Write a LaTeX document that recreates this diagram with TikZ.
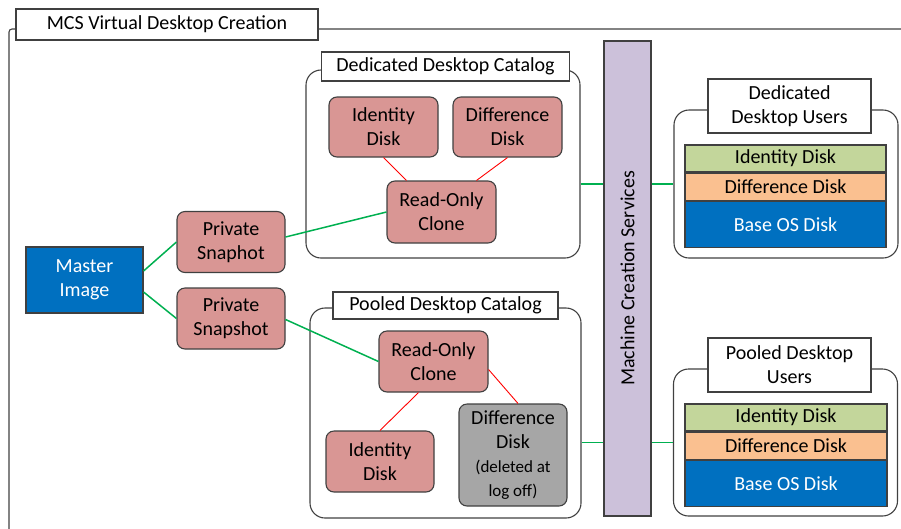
\documentclass[tikz,border=0pt]{standalone}
\usepackage{fontspec}
\setmainfont{Carlito}
\usetikzlibrary{
    positioning
}
\definecolor{edgeGray}{RGB}{64,64,64}
\definecolor{diskPink}{RGB}{217,150,148}
\definecolor{diskGray}{RGB}{166,166,166}
\definecolor{msBlue}{RGB}{0,112,192}
\definecolor{mcsLilac}{RGB}{204,193,218}
\definecolor{layGreen}{RGB}{195,214,155}
\definecolor{layOrange}{RGB}{250,192,144}
\definecolor{linkGreen}{RGB}{0,176,80}
\tikzset{
  disk/.style    = {draw=edgeGray, line width=1.1pt, rounded corners=8pt,
                    fill=diskPink, minimum width=108pt, minimum height=61pt,
                    align=center, inner sep=0pt},
  panel/.style   = {draw=edgeGray, line width=1.1pt, rounded corners=15pt,
                    inner sep=0pt},
  tag/.style     = {draw=edgeGray, line width=1.1pt, fill=white,
                    align=center, inner sep=0pt},
  layer/.style   = {draw=edgeGray, line width=1.1pt, minimum width=201pt,
                    minimum height=27pt, inner sep=0pt},
  glink/.style   = {linkGreen, line width=1.5pt},
  rlink/.style   = {red, line width=0.9pt}
}
\newcommand{\smalltxt}{\fontsize{17}{21}\selectfont}

\begin{document}
\begin{tikzpicture}[
    x=1pt, y=-1pt,
    every node/.style={font=\fontsize{20}{24}\selectfont},
    usercase/.style={panel, minimum width=224pt, minimum height=148pt}
]
\useasboundingbox (0,0) rectangle (901,528);

% outer frame
\draw[edgeGray, line width=1.1pt, rounded corners=3pt] (9,560) |- (940,29);
\node[tag, minimum width=302pt, minimum height=31pt] (title) at (167,24.5)
    {MCS Virtual Desktop Creation};

% master and snapshots
\node[draw=edgeGray, line width=1.1pt, fill=msBlue, text=white, align=center,
      minimum width=117pt, minimum height=66pt] (master) at (84.5,280)
    {Master\\Image};
\node[disk] (snapA) at (231,242) {Private\\Snaphot};
\node[disk] (snapB) at (231,318.5) {Private\\Snapshot};

% dedicated catalog
\node[panel, minimum width=274pt, minimum height=188pt] (dedcat) at (443,164) {};
\node[tag, minimum width=248pt, minimum height=29pt] (dedtitle) at (445.5,66.5)
    {Dedicated Desktop Catalog};
\node[disk, minimum width=109pt, minimum height=60pt] (dedid) at (383.5,127)
    {Identity\\Disk};
\node[disk, minimum width=109pt, minimum height=60pt] (deddiff) at (507.5,127)
    {Difference\\Disk};
\node[disk, minimum width=109pt, minimum height=62pt] (dedclone) at (441.5,212)
    {Read-Only\\Clone};

% pooled catalog
\node[panel, minimum width=271pt, minimum height=210pt] (poolcat) at (445.5,413) {};
\node[tag, minimum width=225pt, minimum height=27pt] (pooltitle) at (445.5,305.5)
    {Pooled Desktop Catalog};
\node[disk, minimum width=109pt] (poolclone) at (433.5,361.5) {Read-Only\\Clone};
\node[disk] (poolid) at (380,461.5) {Identity\\Disk};
\node[disk, fill=diskGray, minimum height=102pt] (pooldiff) at (513,455)
    {Difference\\Disk\\{\smalltxt(deleted at}\\{\smalltxt log off)}};

% machine creation services
\node[draw=edgeGray, line width=1.1pt, fill=mcsLilac, rotate=90,
      minimum width=475pt, minimum height=47pt, inner sep=0pt] (mcs)
    at (627.5,278.5) {Machine Creation Services};

% dedicated users
\node[usercase] (dedusers) at (786,184) {};
\node[tag, minimum width=163pt, minimum height=54pt] (dedutitle) at (789.5,106)
    {Dedicated\\Desktop Users};
\node[layer, fill=layGreen] (dedlid) at (785.5,158.5) {Identity Disk};
\node[layer, fill=layOrange, below=0pt of dedlid] (dedldiff) {Difference Disk};
\node[layer, fill=msBlue, text=white, minimum height=46pt,
      below=0pt of dedldiff] (dedlbase) {Base OS Disk};

% pooled users
\node[usercase, minimum height=147pt] (poolusers) at (785.5,442.5) {};
\node[tag, minimum width=163pt, minimum height=54pt] (poolutitle) at (789.5,365)
    {Pooled Desktop\\Users};
\node[layer, fill=layGreen, minimum width=202pt] (poollid) at (786,417.5)
    {Identity Disk};
\node[layer, fill=layOrange, minimum width=202pt, below=0pt of poollid]
    (poolldiff) {Difference Disk};
\node[layer, fill=msBlue, text=white, minimum width=202pt, minimum height=46pt,
      below=0pt of poolldiff] (poollbase) {Base OS Disk};

% green links
\draw[glink] ([yshift=9pt]master.east) -- (snapA.west);
\draw[glink] ([yshift=-12pt]master.east) -- (snapB.west);
\draw[glink] ([yshift=5pt]snapA.east) -- (dedclone.west);
\draw[glink] ([yshift=-1pt]snapB.east) -- (poolclone.west);
\draw[glink] (dedcat.east |- dedusers.west) -- (mcs.north |- dedusers.west);
\draw[glink] (mcs.south |- dedusers.west) -- (dedusers.west);
\draw[glink] (poolcat.east |- poolusers.west) -- (mcs.north |- poolusers.west);
\draw[glink] (mcs.south |- poolusers.west) -- (poolusers.west);

% red links
\draw[rlink] (dedid.south) -- ([xshift=-35pt]dedclone.north);
\draw[rlink] (deddiff.south) -- ([xshift=35pt]dedclone.north);
\draw[rlink] ([xshift=-15pt]poolclone.south) -- (poolid.north);
\draw[rlink] ([yshift=-8pt]poolclone.east) -- ([xshift=5pt]pooldiff.north);

\end{tikzpicture}
\end{document}
